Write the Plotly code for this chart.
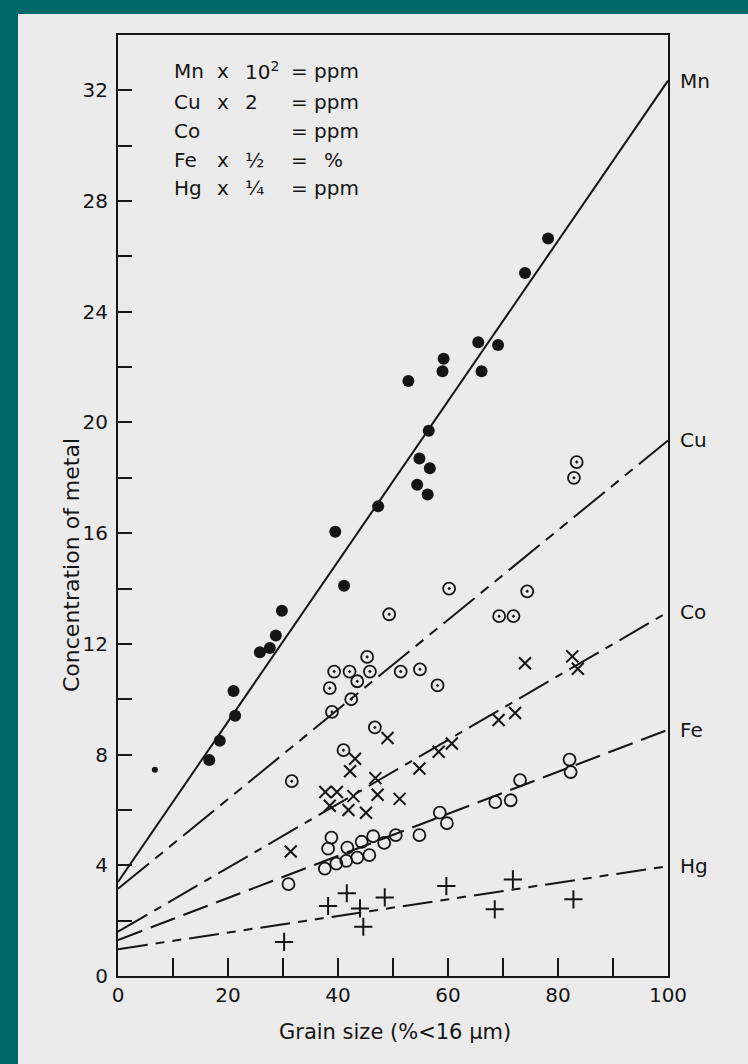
import plotly.graph_objects as go

# ---------------- data ----------------
mn_x = [16.6, 18.5, 21.0, 21.3, 25.8, 27.6, 28.7, 29.8, 39.5, 41.1, 47.3, 52.8,
        54.4, 54.8, 56.3, 56.5, 56.7, 59.0, 59.2, 65.5, 66.1, 69.1, 74.0, 78.2]
mn_y = [7.8, 8.5, 10.3, 9.4, 11.7, 11.85, 12.3, 13.2, 16.05, 14.1, 16.97, 21.5,
        17.75, 18.7, 17.4, 19.7, 18.35, 21.85, 22.3, 22.9, 21.85, 22.8, 25.4, 26.65]
dot_x = [6.7]
dot_y = [7.45]

cu_x = [31.6, 38.5, 38.9, 39.3, 41.0, 42.1, 42.4, 43.5, 45.3, 45.8, 46.7, 49.3,
        51.4, 54.9, 58.1, 60.2, 69.3, 71.9, 74.4, 82.9, 83.4]
cu_y = [7.04, 10.4, 9.54, 11.0, 8.16, 11.0, 10.0, 10.65, 11.53, 11.0, 8.98, 13.07,
        11.0, 11.08, 10.5, 14.0, 13.0, 13.0, 13.9, 18.0, 18.57]

co_x = [31.4, 37.7, 38.5, 39.8, 41.9, 42.2, 42.8, 43.1, 45.1, 46.8, 47.2, 49.0,
        51.2, 54.8, 58.3, 60.7, 69.2, 72.2, 74.0, 82.6, 83.6]
co_y = [4.5, 6.65, 6.15, 6.65, 6.0, 7.4, 6.5, 7.85, 5.9, 7.15, 6.55, 8.6,
        6.4, 7.5, 8.1, 8.4, 9.25, 9.5, 11.3, 11.55, 11.1]

fe_x = [31.0, 37.6, 38.2, 38.8, 39.7, 41.5, 41.7, 43.5, 44.3, 45.7, 46.4, 48.4,
        50.5, 54.8, 58.5, 59.8, 68.6, 71.4, 73.1, 82.1, 82.3]
fe_y = [3.32, 3.88, 4.6, 5.0, 4.06, 4.16, 4.64, 4.28, 4.85, 4.37, 5.05, 4.81,
        5.09, 5.09, 5.9, 5.52, 6.28, 6.35, 7.08, 7.82, 7.37]

hg_x = [30.2, 38.2, 41.6, 44.0, 44.6, 48.5, 59.7, 68.5, 71.8, 82.8]
hg_y = [1.23, 2.53, 2.99, 2.44, 1.78, 2.84, 3.25, 2.41, 3.49, 2.77]

fit_x = [0, 100]
fit_mn = [3.4, 32.35]
fit_cu = [3.15, 19.35]
fit_co = [1.6, 13.15]
fit_fe = [1.3, 8.9]
fit_hg = [0.97, 3.97]

line_names = ["Mn", "Cu", "Co", "Fe", "Hg"]

key_elem = ["Mn", "Cu", "Co", "Fe", "Hg"]
key_factor = ["10<sup>2</sup>", "2", "", "½", "¼"]
key_unit = ["ppm", "ppm", "ppm", "%", "ppm"]

x_tickvals = [0, 20, 40, 60, 80, 100]
x_ticktext = ["0", "20", "40", "60", "80", "100"]
x_minorvals = [10, 30, 50, 70, 90]
y_tickvals = [0, 4, 8, 12, 16, 20, 24, 28, 32]
y_ticktext = ["0", "4", "8", "12", "16", "20", "24", "28", "32"]
y_minorvals = [2, 6, 10, 14, 18, 22, 26, 30]

x_title = "Grain size (%<16 μm)"
y_title = "Concentration of metal"

# ---------------- styling ----------------
INK = "#151515"
FONT = "DejaVu Sans"
W, H = 748, 1064
L, R, T, B = 118, 80, 35, 88
PW, PH = W - L - R, H - T - B

fig = go.Figure()

fits = [fit_mn, fit_cu, fit_co, fit_fe, fit_hg]
dashes = ["solid",
          "40px,8px,10px,8px,10px,8px",
          "34px,8px,8px,8px",
          "26px,9px",
          "30px,8px,9px,8px,9px,8px"]
for name, f, d in zip(line_names, fits, dashes):
    fig.add_trace(go.Scatter(x=fit_x, y=f, mode="lines",
                             line=dict(color=INK, width=2, dash=d),
                             showlegend=False, hoverinfo="skip"))

fig.add_trace(go.Scatter(x=mn_x, y=mn_y, mode="markers", name="Mn",
                         marker=dict(symbol="circle", size=12, color=INK)))
fig.add_trace(go.Scatter(x=dot_x, y=dot_y, mode="markers", name="Mn dot",
                         marker=dict(symbol="circle", size=6, color=INK)))
fig.add_trace(go.Scatter(x=cu_x, y=cu_y, mode="markers", name="Cu",
                         marker=dict(symbol="circle-open-dot", size=12, color=INK,
                                     line=dict(width=1.8, color=INK))))
fig.add_trace(go.Scatter(x=co_x, y=co_y, mode="markers", name="Co",
                         marker=dict(symbol="x-thin-open", size=12, color=INK,
                                     line=dict(width=2, color=INK))))
fig.add_trace(go.Scatter(x=fe_x, y=fe_y, mode="markers", name="Fe",
                         marker=dict(symbol="circle-open", size=12, color=INK,
                                     line=dict(width=1.8, color=INK))))
fig.add_trace(go.Scatter(x=hg_x, y=hg_y, mode="markers", name="Hg",
                         marker=dict(symbol="cross-thin-open", size=13, color=INK,
                                     line=dict(width=2, color=INK))))

annotations = []
# line-end labels
for name, f in zip(line_names, fits):
    annotations.append(dict(x=1.0, xref="paper", y=f[1], yref="y", xshift=10,
                            text=name, showarrow=False, xanchor="left",
                            font=dict(family=FONT, size=20, color=INK)))

# key block (top-left)
row_px = [71, 102, 131, 160, 188]
def px2py(p):
    return (H - B - p) / PH
def px2px(p):
    return (p - L) / PW
for i in range(5):
    yy = px2py(row_px[i])
    annotations.append(dict(x=px2px(172), y=yy, xref="paper", yref="paper", text=key_elem[i],
                            showarrow=False, xanchor="left", yanchor="middle",
                            font=dict(family=FONT, size=20, color=INK)))
    if key_factor[i]:
        annotations.append(dict(x=px2px(223), y=yy, xref="paper", yref="paper", text="x",
                                showarrow=False, xanchor="center", yanchor="middle",
                                font=dict(family=FONT, size=20, color=INK)))
        annotations.append(dict(x=px2px(243), y=yy, xref="paper", yref="paper", text=key_factor[i],
                                showarrow=False, xanchor="left", yanchor="middle",
                                font=dict(family=FONT, size=20, color=INK)))
    annotations.append(dict(x=px2px(299), y=yy, xref="paper", yref="paper", text="=",
                            showarrow=False, xanchor="center", yanchor="middle",
                            font=dict(family=FONT, size=20, color=INK)))
    ux = 322 if key_unit[i] == "%" else 312
    annotations.append(dict(x=px2px(ux), y=yy, xref="paper", yref="paper", text=key_unit[i],
                            showarrow=False, xanchor="left", yanchor="middle",
                            font=dict(family=FONT, size=20, color=INK)))

# axis titles
annotations.append(dict(x=px2px(395), y=px2py(1032), xref="paper", yref="paper",
                        text=x_title, showarrow=False,
                        xanchor="center", yanchor="middle",
                        font=dict(family=FONT, size=21, color=INK)))
annotations.append(dict(x=px2px(71), y=px2py(565), xref="paper", yref="paper",
                        text=y_title, showarrow=False, textangle=-90,
                        xanchor="center", yanchor="middle",
                        font=dict(family=FONT, size=22, color=INK)))

# paper sheet on teal background
shapes = [dict(type="rect", xref="paper", yref="paper",
               x0=px2px(18), x1=px2px(W), y0=px2py(H), y1=px2py(14),
               fillcolor="#ebebeb", line=dict(width=0), layer="below")]

fig.update_layout(
    width=W, height=H,
    margin=dict(l=L, r=R, t=T, b=B),
    paper_bgcolor="#006868",
    plot_bgcolor="#f1f1f1",
    showlegend=False,
    annotations=annotations,
    shapes=shapes,
    font=dict(family=FONT, size=20, color=INK),
)
fig.update_xaxes(range=[0, 100], showgrid=False, zeroline=False,
                 showline=True, linecolor=INK, linewidth=2, mirror=True,
                 ticks="inside", ticklen=18, tickwidth=2, tickcolor=INK,
                 tickmode="array", tickvals=x_tickvals, ticktext=x_ticktext,
                 minor=dict(tickmode="array", tickvals=x_minorvals, ticks="inside",
                            ticklen=18, tickwidth=2, tickcolor=INK, showgrid=False),
                 tickfont=dict(family=FONT, size=20, color=INK))
fig.update_yaxes(range=[0, 34], showgrid=False, zeroline=False,
                 showline=True, linecolor=INK, linewidth=2, mirror=True,
                 ticks="inside", ticklen=14, tickwidth=2, tickcolor=INK,
                 tickmode="array", tickvals=y_tickvals, ticktext=y_ticktext,
                 minor=dict(tickmode="array", tickvals=y_minorvals, ticks="inside",
                            ticklen=14, tickwidth=2, tickcolor=INK, showgrid=False),
                 ticklabelstandoff=4,
                 tickfont=dict(family=FONT, size=20, color=INK))

fig.write_html("out.html")
